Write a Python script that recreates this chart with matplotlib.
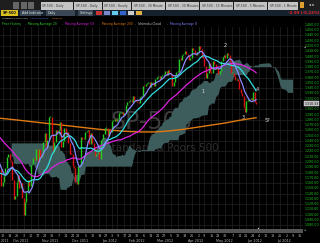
import matplotlib
matplotlib.use('Agg')
import matplotlib.pyplot as plt
import numpy as np
import pandas as pd
from matplotlib.patches import Rectangle

# ---------------- data ----------------
holidays = ['2011-07-04', '2011-09-05', '2011-11-24', '2011-12-26', '2012-01-02',
            '2012-01-16', '2012-02-20', '2012-04-06', '2012-05-28', '2012-07-04']

close_2011_jun = [1314.55, 1312.94, 1300.16, 1286.17, 1284.94, 1279.56, 1289.00, 1270.98, 1271.83, 1287.87, 1265.42,
                  1267.64, 1271.50, 1278.36, 1295.52, 1287.14, 1283.50, 1268.45, 1280.10, 1296.67, 1307.41, 1320.64]
close_2011_jul = [1339.67, 1337.88, 1339.22, 1353.22, 1343.80, 1319.49, 1313.64, 1317.72, 1308.87, 1316.14,
                  1305.44, 1326.73, 1325.84, 1343.80, 1345.02, 1337.43, 1331.94, 1304.89, 1300.67, 1292.28]
close_2011_aug = [1286.94, 1254.05, 1260.34, 1200.07, 1199.38, 1119.46, 1172.53, 1120.76, 1172.64, 1178.81, 1204.49,
                  1192.76, 1193.89, 1140.65, 1123.53, 1123.82, 1162.35, 1177.60, 1159.27, 1176.80, 1210.08, 1212.92, 1218.89]
close_2011_sep = [1204.42, 1173.97, 1165.24, 1198.62, 1185.90, 1154.23, 1162.27, 1172.87, 1188.68, 1209.11, 1216.01,
                  1204.09, 1202.09, 1166.76, 1129.56, 1136.43, 1162.95, 1175.38, 1151.06, 1160.40, 1131.42]
close_2011_oct = [1099.23, 1123.95, 1144.03, 1164.97, 1155.46, 1194.89, 1195.54, 1207.25, 1203.66, 1224.58, 1200.86,
                  1225.38, 1209.88, 1215.39, 1238.25, 1254.19, 1229.05, 1242.00, 1284.59, 1285.09, 1253.30]
close_2011_nov = [1218.28, 1237.90, 1261.15, 1253.23, 1261.12, 1275.92, 1229.10, 1239.70, 1263.85, 1251.78, 1257.81,
                  1236.91, 1216.13, 1215.65, 1192.98, 1188.04, 1161.79, 1158.67, 1192.55, 1195.19, 1246.96]
close_2011_dec = [1244.58, 1244.28, 1257.08, 1258.47, 1261.01, 1234.35, 1255.19, 1236.47, 1225.73, 1211.82, 1215.75,
                  1219.66, 1205.35, 1241.30, 1243.72, 1254.00, 1265.33, 1265.43, 1249.64, 1263.02, 1257.60]
close_2012_jan = [1277.06, 1277.30, 1281.06, 1277.81, 1280.70, 1292.08, 1292.48, 1295.50, 1289.09, 1293.67,
                  1308.04, 1314.50, 1315.38, 1316.00, 1314.65, 1326.06, 1318.43, 1316.33, 1313.01, 1312.41]
close_2012_feb = [1324.09, 1325.54, 1344.90, 1344.33, 1347.05, 1349.96, 1351.95, 1342.64, 1351.77, 1350.50,
                  1343.23, 1358.04, 1361.23, 1362.21, 1357.66, 1363.46, 1365.74, 1367.59, 1372.18, 1365.68]
close_2012_mar = [1374.09, 1369.63, 1364.33, 1343.36, 1352.63, 1365.91, 1370.87, 1371.09, 1395.95, 1394.28, 1402.60,
                  1404.17, 1409.75, 1405.52, 1402.89, 1392.78, 1397.11, 1416.51, 1412.52, 1405.54, 1403.28, 1408.47]
close_2012_apr = [1419.04, 1413.38, 1398.96, 1398.08, 1382.20, 1358.59, 1368.71, 1387.57, 1370.26, 1369.57,
                  1390.78, 1385.14, 1376.92, 1378.53, 1366.94, 1371.97, 1390.69, 1399.98, 1403.36, 1397.91]
close_2012_may = [1405.82, 1402.31, 1391.57, 1369.10, 1369.58, 1363.72, 1354.58, 1357.99, 1353.39, 1338.35, 1330.66,
                  1324.80, 1304.86, 1295.22, 1315.99, 1316.63, 1318.86, 1320.68, 1317.82, 1332.42, 1313.32, 1310.33]

# 200-day moving average (trading-day index from 2011-06-01, value)
ma200_idx = [69, 80, 90, 100, 110, 120, 130, 140, 150, 160, 170, 180, 190, 200, 210, 220, 230, 240, 252]
ma200_val = [1283, 1280, 1277, 1274, 1271, 1268, 1265, 1262, 1260, 1258, 1257, 1257, 1259, 1262, 1266, 1270, 1274, 1279, 1284]

wave_labels = ['1', '2', '3', '4', '5?']
wave_dates = ['2012-04-05', '2012-04-30', '2012-05-17', '2012-06-01', '2012-06-12']
wave_prices = [1333, 1421, 1285, 1337, 1278]

price_ticks = list(range(1080, 1461, 10))
tab_titles = ['SP-500 - Daily', 'SP-500 - Daily', 'SP-500 - Hourly', 'SP-500 - 30 Minute',
              'SP-500 - 30 Minutes', 'SP-500 - 15 Minutes', 'SP-500 - 5 Minutes', 'SP-500 - 1 Minute']
legend_items = ['Price History', 'Moving Average 20', 'Moving Average 50',
                'Moving Average 200', 'Ichimoku Cloud', 'Moving Average 8']
legend_colors = ['#33cc33', '#33cc33', '#dd22dd', '#e07a10', '#cccccc', '#8080ff']
change_text = '-2.99 (-0.23%)'

# ---------------- derived series ----------------
closes = (close_2011_jun + close_2011_jul + close_2011_aug + close_2011_sep + close_2011_oct + close_2011_nov +
          close_2011_dec + close_2012_jan + close_2012_feb + close_2012_mar + close_2012_apr + close_2012_may)
dates = pd.bdate_range('2011-06-01', '2012-07-31', freq='C', holidays=holidays)
n = len(closes)
s = pd.Series(closes)
ma8 = s.rolling(8).mean()
ma20 = s.rolling(20).mean()
ma50 = s.rolling(50).mean()
tenkan = (s.rolling(9).max() + s.rolling(9).min()) / 2
kijun = (s.rolling(26).max() + s.rolling(26).min()) / 2
span_a = ((tenkan + kijun) / 2).values
span_b = ((s.rolling(52).max() + s.rolling(52).min()) / 2).values
cloud_x = np.arange(n) + 26

date_pos = {d.strftime('%Y-%m-%d'): i for i, d in enumerate(dates)}

# ---------------- figure ----------------
W, H = 320, 243
fig = plt.figure(figsize=(3.2, 2.43), dpi=100)
fig.patch.set_facecolor('black')


def fx(x):
    return x / W


def fy(y):
    return 1 - y / H


def frect(x0, y0, x1, y1, color, z=1, **kw):
    fig.patches.append(Rectangle((fx(x0), fy(y1)), (x1 - x0) / W, (y1 - y0) / H,
                                 transform=fig.transFigure, facecolor=color, zorder=z, **kw))


def ftext(x, y, t, color, size=3.2, ha='left', va='center', **kw):
    fig.text(fx(x), fy(y), t, color=color, fontsize=size, ha=ha, va=va, **kw)


# chart axes
CT, CB, CR = 27, 229, 303
PX0, PXD = 2.7, 1.4          # pixel of 2011-09-12 and pixels per trading day
ax = fig.add_axes([0, fy(CB), CR / W, (CB - CT) / H])
ax.set_facecolor('black')
x0i = 71 - PX0 / PXD
x1i = 71 + (CR - PX0) / PXD
ax.set_xlim(x0i, x1i)
ax.set_ylim(1073, 1456)
for sp in ax.spines.values():
    sp.set_visible(False)
ax.set_xticks([])
ax.set_yticks([])


def to_px(i):
    return PX0 + (i - 71) * PXD


# grid
for p in range(1080, 1461, 20):
    ax.axhline(p, color='#232323', lw=0.5, zorder=0)
week_idx = []
prev_week = None
for i, d in enumerate(dates):
    wk = d.isocalendar()[1]
    if wk != prev_week:
        week_idx.append(i)
    prev_week = wk
for i in week_idx:
    ax.axvline(i, color='#232323', lw=0.5, zorder=0)

# watermark
ax.text(0.5, 0.53, 'SP-500', transform=ax.transAxes, color='#3a3a3a', fontsize=17,
        ha='center', va='center', zorder=1)
ax.text(0.535, 0.40, 'Standard & Poors 500', transform=ax.transAxes, color='#2e2e2e', fontsize=7.5,
        ha='center', va='center', zorder=1)

# cloud
ax.fill_between(cloud_x, span_a, span_b, color='#3d5c5c', lw=0, zorder=2)

# MA200
ax.plot(ma200_idx, ma200_val, color='#e07a10', lw=1.0, zorder=3)

# candles
first = 70
for i in range(first, n):
    o = closes[i - 1]
    c = closes[i]
    col = '#22cc22' if c >= o else '#dd1111'
    lo, hi = min(o, c), max(o, c)
    if hi - lo < 2:
        hi = lo + 2
    ax.vlines(i, lo, hi, color=col, lw=1.0, zorder=4)

# MAs
xi = np.arange(n)
ax.plot(xi, ma50, color='#dd22dd', lw=0.9, zorder=5)
ax.plot(xi, ma20, color='#33dddd', lw=0.9, zorder=5)
ax.plot(xi, ma8, color='#8888ff', lw=0.9, zorder=5)

# wave labels
for t, d, p in zip(wave_labels, wave_dates, wave_prices):
    ax.text(date_pos[d], p, t, color='#dddddd', fontsize=3.6, ha='center', va='center', zorder=6)

# small markers
ax.plot([date_pos['2012-06-01']], [1075], marker='^', ms=1.6, color='#dddddd', mec='none', zorder=6,
        clip_on=False)

# right price labels
for p in price_ticks:
    ax.text(1.004, p, f'{p:,.2f}', transform=ax.get_yaxis_transform(), color='#22cc22',
            fontsize=2.3, ha='left', va='center', clip_on=False)
last = closes[-1]
ax.text(1.004, last, f'{last:,.2f}', transform=ax.get_yaxis_transform(), color='#222222',
        fontsize=2.3, ha='left', va='center', clip_on=False, zorder=8,
        bbox=dict(boxstyle='square,pad=0.12', fc='#bbbbbb', ec='#eeeeee', lw=0.3))
ftext(303.5, 47, '\u25c2', '#dddddd', size=2.4, ha='left')

# ---------------- bottom date axis ----------------
frect(0, 229, CR, 232.5, '#555555', z=2)
ftext(303.5, 230.5, '\u25c2', '#bbbbbb', size=2.4, ha='left')
axx = fig.add_axes([0, 0, CR / W, 10 / H])
axx.set_facecolor('black')
axx.set_xlim(x0i, x1i)
axx.set_ylim(0, 10)
axx.axis('off')
prev_week = None
for i, d in enumerate(dates):
    wk = d.isocalendar()[1]
    if wk != prev_week and 2 <= to_px(i) <= 300:
        axx.text(i, 7, str(d.day), color='#bbbbbb', fontsize=2.4, ha='center', va='center')
    prev_week = wk
prev_m = None
for i, d in enumerate(dates):
    if d.month != prev_m:
        xm = to_px(i) - 2.8
        if 8 <= xm <= 296:
            axx.text(i - 2, 2.3, d.strftime('%b %Y'), color='#bbbbbb', fontsize=2.4, ha='center', va='center')
    prev_m = d.month
ftext(0.5, 240.7, '2011', '#bbbbbb', size=2.4, ha='left')

# ---------------- top UI ----------------
frect(0, 0, W, 10, '#1e1e1e', z=1)
for k in range(3):
    frect(13 + 7.5 * k, 2, 19 + 7.5 * k, 9, '#666666', z=2)
tab_x = [41, 74, 103, 132, 166, 200, 234, 268]
tab_w = [32, 28, 28, 33, 33, 33, 33, 30]
for t, x, w in zip(tab_titles, tab_x, tab_w):
    frect(x, 2.5, x + w, 10, '#c4c4c4', z=2)
    ftext(x + 1.5, 6.3, t, '#333333', size=2.2)
frect(300, 2.5, 304, 8, '#e0a030', z=2)
ftext(312, 5.5, '\u25c2 \u25b8', '#dddddd', size=3, ha='center')

frect(0, 10, W, 16.5, '#16212e', z=1)
frect(1, 10.5, 18, 16, '#d8c020', z=2)
ftext(2.3, 13.3, 'SP-500', '#111111', size=2.5, weight='bold')
frect(20, 10.5, 41, 16, '#3a4654', z=2)
ftext(21.5, 13.3, 'Add Indicator', '#e0e0e0', size=2.3)
frect(46, 10.5, 75, 16, '#3a4654', z=2)
ftext(48, 13.3, 'Daily', '#e0e0e0', size=2.3)
frect(78, 10.5, 93, 16, '#3a4654', z=2)
ftext(79.5, 13.3, 'Settings', '#e0e0e0', size=2.3)
icon_cols = ['#cc3333', '#7788cc', '#66ccee', '#3366cc', '#cccccc', '#e0b040']
for k, col in enumerate(icon_cols):
    frect(96 + 8 * k, 11, 102 + 8 * k, 15.5, col, z=2)
ftext(319.5, 13.3, change_text, '#ee2222', size=2.8, ha='right', weight='bold')

ftext(2, 18, 'Standard & Poors 500', '#dddddd', size=1.7)
ftext(30, 18, 'Add to Portfolio', '#5577ee', size=1.7)
ftext(52, 18, 'Drawings', '#e08020', size=1.7)
legend_x = [2, 28, 65, 102, 138, 170]
for t, col, x in zip(legend_items, legend_colors, legend_x):
    ftext(x, 24, t, col, size=2.2)
for x in [24.5, 61.5, 98.5, 135, 166.5]:
    ftext(x, 24, '-', '#888888', size=2.2)

fig.savefig('out.png', dpi=100, facecolor='black')
